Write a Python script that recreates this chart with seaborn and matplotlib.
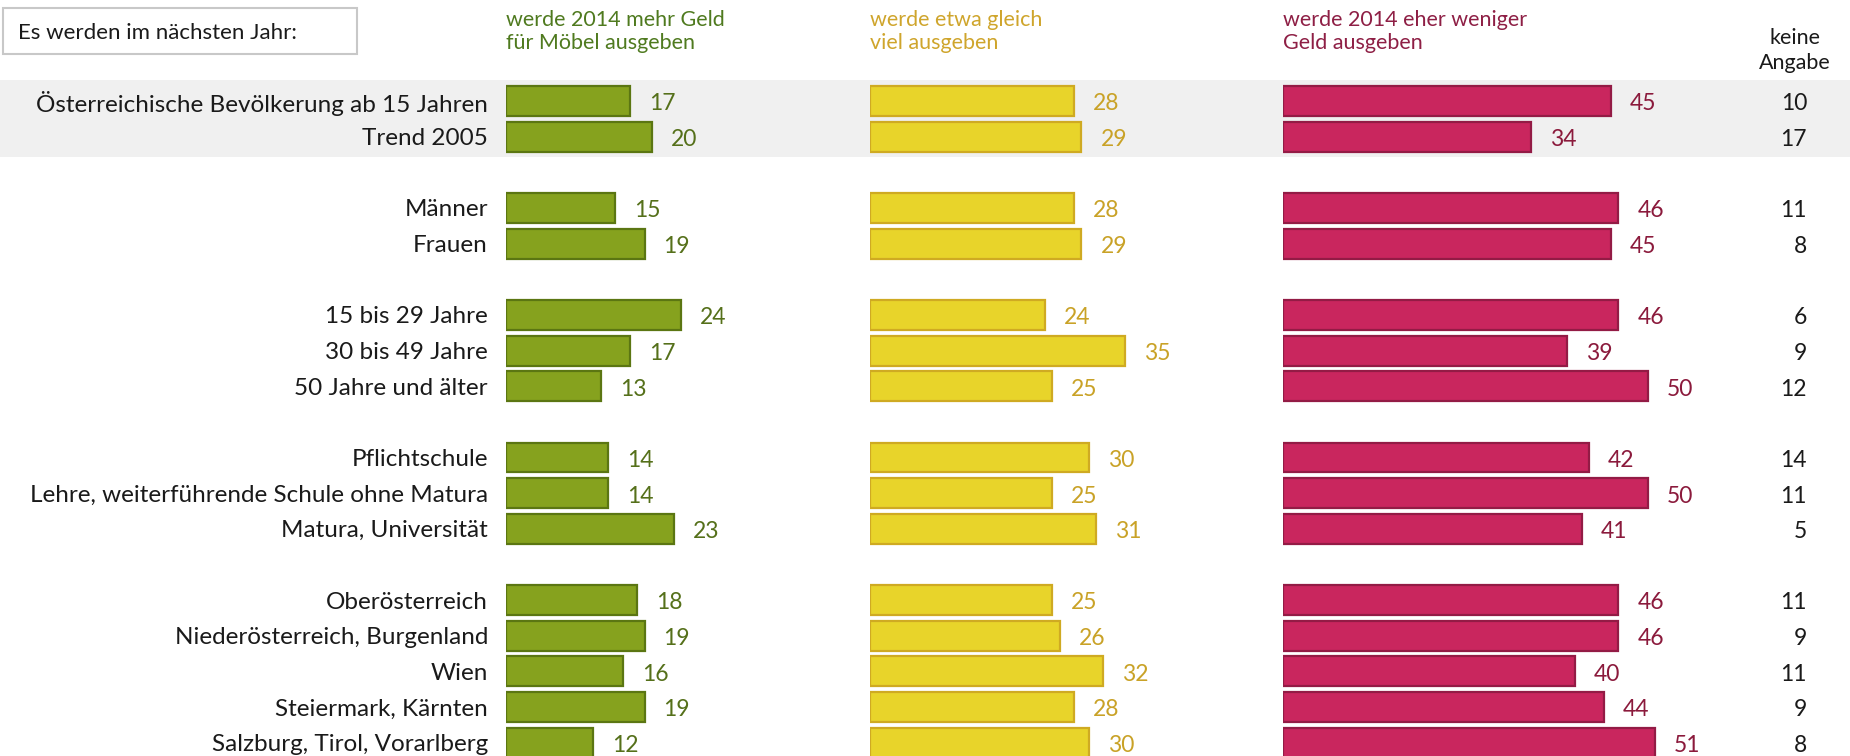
import matplotlib
matplotlib.use("Agg")
import matplotlib.pyplot as plt
import seaborn as sns
import pandas as pd
import numpy as np

sns.set_theme(style="white")
plt.rcParams["font.family"] = ["Lato", "DejaVu Sans"]

# ---- data -----------------------------------------------------------------
categories = [
    "Österreichische Bevölkerung ab 15 Jahren", "Trend 2005",
    "Männer", "Frauen",
    "15 bis 29 Jahre", "30 bis 49 Jahre", "50 Jahre und älter",
    "Pflichtschule", "Lehre, weiterführende Schule ohne Matura", "Matura, Universität",
    "Oberösterreich", "Niederösterreich, Burgenland", "Wien",
    "Steiermark, Kärnten", "Salzburg, Tirol, Vorarlberg",
]
# row slots (blank slot between groups)
rows = [0, 1, 3, 4, 6, 7, 8, 10, 11, 12, 14, 15, 16, 17, 18]

mehr = [17, 20, 15, 19, 24, 17, 13, 14, 14, 23, 18, 19, 16, 19, 12]
gleich = [28, 29, 28, 29, 24, 35, 25, 30, 25, 31, 25, 26, 32, 28, 30]
weniger = [45, 34, 46, 45, 46, 39, 50, 42, 50, 41, 46, 46, 40, 44, 51]
keine_angabe = [10, 17, 11, 8, 6, 9, 12, 14, 11, 5, 11, 9, 11, 9, 8]

series_titles = [
    "werde 2014 mehr Geld\nfür Möbel ausgeben",
    "werde etwa gleich\nviel ausgeben",
    "werde 2014 eher weniger\nGeld ausgeben",
]

df = pd.DataFrame({"row": rows, "cat": categories, "mehr": mehr,
                   "gleich": gleich, "weniger": weniger, "ka": keine_angabe})

# ---- layout ---------------------------------------------------------------
W, H = 1850, 756
fig = plt.figure(figsize=(W / 100, H / 100), dpi=100)
fig.patch.set_facecolor("white")

PX_PER_UNIT = 7.29
ROW0_PX, ROW_PITCH = 101.0, 35.65
ylim = ((H - ROW0_PX) / ROW_PITCH, -ROW0_PX / ROW_PITCH)


def fx(px):
    return px / W


# full-width background axes for the shaded total rows
bg = fig.add_axes([0, 0, 1, 1])
bg.set_xlim(0, 1)
bg.set_ylim(*ylim)
bg.axhspan(-0.58, 1.58, color="#f0f0f0", lw=0, zorder=0)
bg.axis("off")

panels = [
    ("mehr", 506, 340, "#86a21e", "#5b7612", "#55701a", "#4f7a1f"),
    ("gleich", 870, 400, "#e8d42a", "#cfaa22", "#c9a227", "#cfa52c"),
    ("weniger", 1283, 420, "#c9265e", "#931b45", "#8b1a3c", "#8e1f45"),
]

FS_VAL = 16.5
FS_CAT = 17.5
FS_HEAD = 15.5
axes = []
for i, (col, x0, w, fill, edge, tcol, hcol) in enumerate(panels):
    ax = fig.add_axes([fx(x0), 0, fx(w), 1])
    ax.patch.set_alpha(0)
    sns.barplot(data=df, x=col, y="row", orient="h", native_scale=True,
                width=0.84, color=fill, saturation=1, edgecolor=edge,
                linewidth=1.6, ax=ax)
    ax.set_xlim(0, w / PX_PER_UNIT)
    ax.set_ylim(*ylim)
    for r, v in zip(df["row"], df[col]):
        ax.text(v + 19 / PX_PER_UNIT, r + 0.08, str(v), ha="left", va="center",
                fontsize=FS_VAL, color=tcol)
    ax.set_xlabel("")
    ax.set_ylabel("")
    ax.set_xticks([])
    for s in ax.spines.values():
        s.set_visible(False)
    if i == 0:
        ax.set_yticks(df["row"])
        ax.set_yticklabels(df["cat"], fontsize=FS_CAT, color="#1a1a1a")
        ax.tick_params(axis="y", length=0, pad=13)
    else:
        ax.set_yticks([])
    fig.text(fx(x0), 1 - 10 / H, series_titles[i], ha="left", va="top",
             fontsize=FS_HEAD, color=hcol, linespacing=1.2)
    axes.append(ax)

# "keine Angabe" column
ka_ax = fig.add_axes([0, 0, 1, 1])
ka_ax.patch.set_alpha(0)
ka_ax.set_xlim(0, W)
ka_ax.set_ylim(*ylim)
ka_ax.axis("off")
for r, v in zip(df["row"], df["ka"]):
    ka_ax.text(1807, r + 0.08, str(v), ha="right", va="center",
               fontsize=FS_VAL, color="#1a1a1a")
fig.text(fx(1795), 1 - 28 / H, "keine\nAngabe", ha="center", va="top",
         fontsize=FS_HEAD, color="#1a1a1a", linespacing=1.3)

# header box
fig.text(fx(18), 1 - 33 / H, "Es werden im nächsten Jahr:", ha="left",
         va="center", fontsize=16, color="#1a1a1a")
box = plt.Rectangle((fx(3), 1 - 54 / H), fx(354), 46 / H, transform=fig.transFigure,
                    fill=False, ec="#c8c8c8", lw=1.5)
fig.add_artist(box)

fig.savefig("out.png", dpi=100, facecolor="white")
